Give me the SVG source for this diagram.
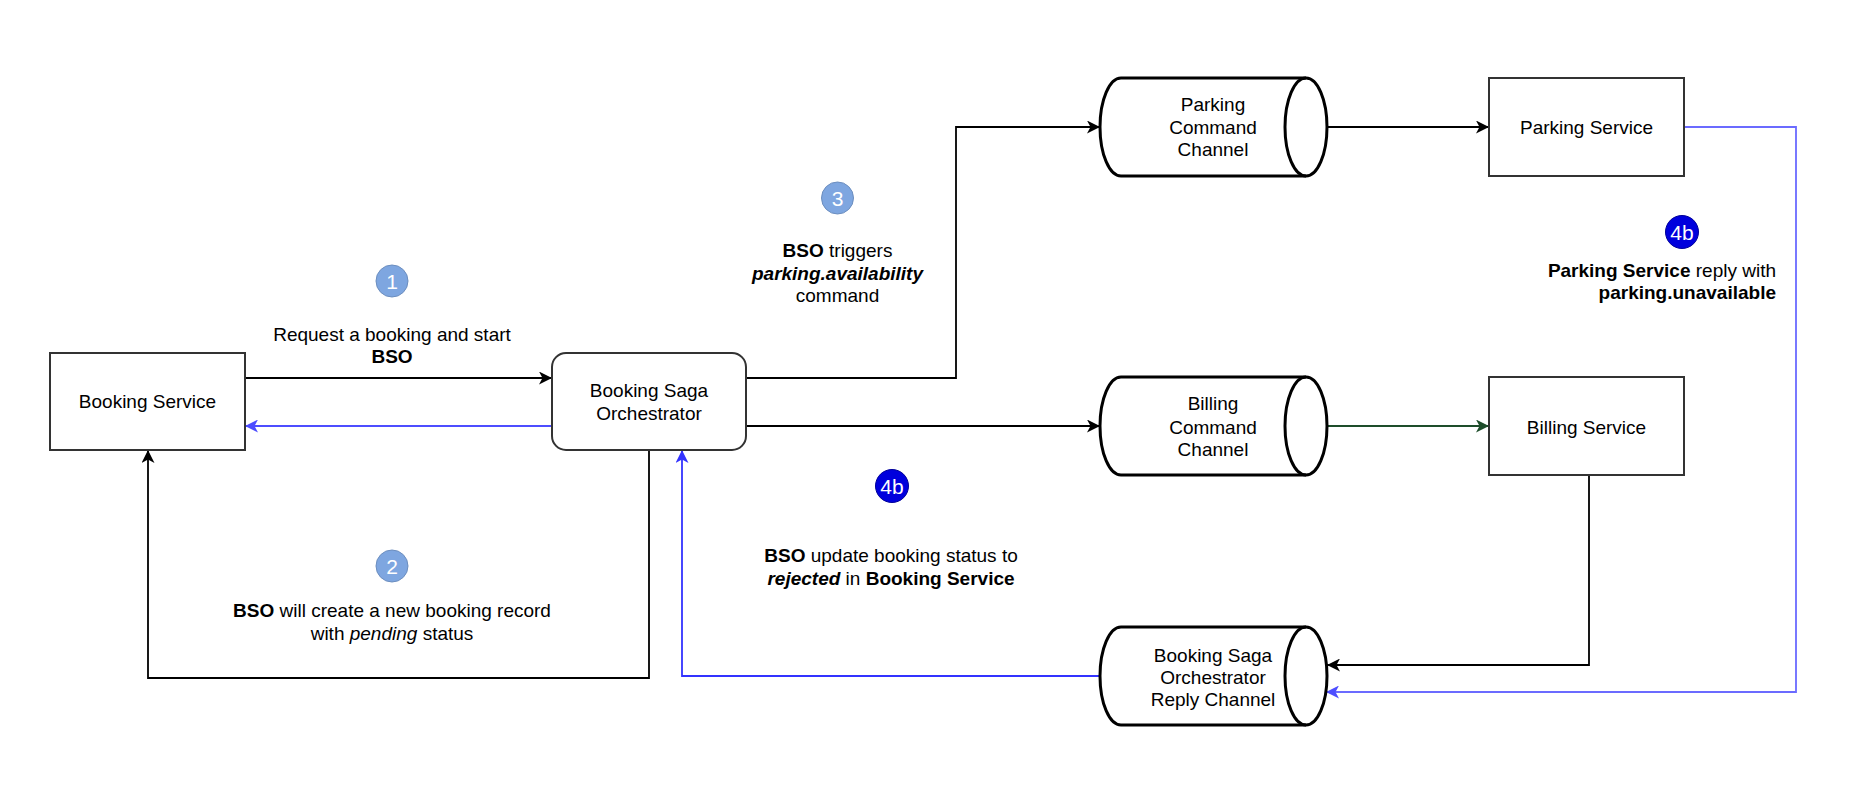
<svg xmlns="http://www.w3.org/2000/svg" width="1856" height="800" viewBox="0 0 1856 800">
<style>
text{font-family:"Liberation Sans",Arial,Helvetica,sans-serif;font-size:19px;fill:#000;text-anchor:middle}
.b{font-weight:bold}
.i{font-style:italic}
.box{fill:#fff;stroke:#333;stroke-width:2}
.cyl{fill:#fff;stroke:#000;stroke-width:3}
.cyli{fill:none;stroke:#000;stroke-width:3}
.ln{fill:none;stroke-width:1.8}
.k{stroke:#000}
.bl1{stroke:#4d4dff}
.bl2{stroke:#3333ff}
.bl3{stroke:#6b6bff}
.gr{stroke:#1e4d2b}
.step{fill:#7ea6e0;stroke:#6c8ebf;stroke-width:1}
.stepb{fill:#0000dd;stroke:#000099;stroke-width:1}
.num{fill:#fff;font-size:21px}
</style>
<defs>
<marker id="ak" markerUnits="userSpaceOnUse" markerWidth="14" markerHeight="13" viewBox="0 0 14 13" refX="13" refY="6.5" orient="auto"><path d="M0,0 L13,6.5 L0,13 L3.5,6.5 Z" fill="#000"/></marker>
<marker id="ab1" markerUnits="userSpaceOnUse" markerWidth="14" markerHeight="13" viewBox="0 0 14 13" refX="13" refY="6.5" orient="auto"><path d="M0,0 L13,6.5 L0,13 L3.5,6.5 Z" fill="#4d4dff"/></marker>
<marker id="ab2" markerUnits="userSpaceOnUse" markerWidth="14" markerHeight="13" viewBox="0 0 14 13" refX="13" refY="6.5" orient="auto"><path d="M0,0 L13,6.5 L0,13 L3.5,6.5 Z" fill="#3333ff"/></marker>
<marker id="ab3" markerUnits="userSpaceOnUse" markerWidth="14" markerHeight="13" viewBox="0 0 14 13" refX="13" refY="6.5" orient="auto"><path d="M0,0 L13,6.5 L0,13 L3.5,6.5 Z" fill="#4d4dff"/></marker>
<marker id="ag" markerUnits="userSpaceOnUse" markerWidth="14" markerHeight="13" viewBox="0 0 14 13" refX="13" refY="6.5" orient="auto"><path d="M0,0 L13,6.5 L0,13 L3.5,6.5 Z" fill="#1e4d2b"/></marker>
</defs>
<rect width="1856" height="800" fill="#fff"/>

<g id="connectors">
<path class="ln k" d="M245,378 L552,378" marker-end="url(#ak)"/>
<path class="ln bl1" d="M552,426 L245,426" marker-end="url(#ab1)"/>
<path class="ln k" d="M649,450 L649,678 L148,678 L148,450" marker-end="url(#ak)"/>
<path class="ln bl2" d="M1100,676 L682,676 L682,450" marker-end="url(#ab2)"/>
<path class="ln k" d="M746,378 L956,378 L956,127 L1100,127" marker-end="url(#ak)"/>
<path class="ln k" d="M746,426 L1100,426" marker-end="url(#ak)"/>
<path class="ln k" d="M1327,127 L1489,127" marker-end="url(#ak)"/>
<path class="ln gr" d="M1327,426 L1489,426" marker-end="url(#ag)"/>
<path class="ln k" d="M1589,475 L1589,665 L1327,665" marker-end="url(#ak)"/>
<path class="ln bl3" d="M1684,127 L1796,127 L1796,692 L1326,692" marker-end="url(#ab3)"/>
</g>

<g id="booking-service">
<rect class="box" x="50" y="353" width="195" height="97"/>
<text x="147.5" y="408">Booking Service</text>
</g>

<g id="bso">
<rect class="box" x="552" y="353" width="194" height="97" rx="14" ry="14"/>
<text x="649" y="397">Booking Saga</text>
<text x="649" y="420">Orchestrator</text>
</g>

<g id="parking-channel">
<path class="cyl" d="M1121,78 L1306,78 A21,49 0 0 1 1306,176 L1121,176 A21,49 0 0 1 1121,78 Z"/>
<path class="cyli" d="M1306,78 A21,49 0 0 0 1306,176"/>
<text x="1213" y="111">Parking</text>
<text x="1213" y="134">Command</text>
<text x="1213" y="156">Channel</text>
</g>

<g id="billing-channel">
<path class="cyl" d="M1121,377 L1306,377 A21,49 0 0 1 1306,475 L1121,475 A21,49 0 0 1 1121,377 Z"/>
<path class="cyli" d="M1306,377 A21,49 0 0 0 1306,475"/>
<text x="1213" y="410">Billing</text>
<text x="1213" y="434">Command</text>
<text x="1213" y="456">Channel</text>
</g>

<g id="reply-channel">
<path class="cyl" d="M1121,627 L1306,627 A21,49 0 0 1 1306,725 L1121,725 A21,49 0 0 1 1121,627 Z"/>
<path class="cyli" d="M1306,627 A21,49 0 0 0 1306,725"/>
<text x="1213" y="662">Booking Saga</text>
<text x="1213" y="684">Orchestrator</text>
<text x="1213" y="706">Reply Channel</text>
</g>

<g id="parking-service">
<rect class="box" x="1489" y="78" width="195" height="98"/>
<text x="1586.5" y="134">Parking Service</text>
</g>

<g id="billing-service">
<rect class="box" x="1489" y="377" width="195" height="98"/>
<text x="1586.5" y="434">Billing Service</text>
</g>

<g id="step1">
<circle class="step" cx="392" cy="281" r="16"/>
<text class="num" x="392" y="288.5">1</text>
<text x="392" y="341">Request a booking and start</text>
<text class="b" x="392" y="363">BSO</text>
</g>

<g id="step2">
<circle class="step" cx="392" cy="566" r="16"/>
<text class="num" x="392" y="573.5">2</text>
<text x="392" y="617"><tspan class="b">BSO</tspan> will create a new booking record</text>
<text x="392" y="640">with <tspan class="i">pending</tspan> status</text>
</g>

<g id="step3">
<circle class="step" cx="837.5" cy="198" r="16"/>
<text class="num" x="837.5" y="205.5">3</text>
<text x="837.5" y="257"><tspan class="b">BSO</tspan> triggers</text>
<text class="b i" x="837.5" y="280">parking.availability</text>
<text x="837.5" y="302">command</text>
</g>

<g id="step4b-parking">
<circle class="stepb" cx="1682" cy="232" r="16.5"/>
<text class="num" x="1682" y="239.5">4b</text>
<text x="1776" y="277" style="text-anchor:end"><tspan class="b">Parking Service</tspan> reply with</text>
<text class="b" x="1776" y="299" style="text-anchor:end">parking.unavailable</text>
</g>

<g id="step4b-bso">
<circle class="stepb" cx="892" cy="486" r="16.5"/>
<text class="num" x="892" y="493.5">4b</text>
<text x="891" y="562"><tspan class="b">BSO</tspan> update booking status to</text>
<text x="891" y="585"><tspan class="b i">rejected</tspan> in <tspan class="b">Booking Service</tspan></text>
</g>
</svg>
